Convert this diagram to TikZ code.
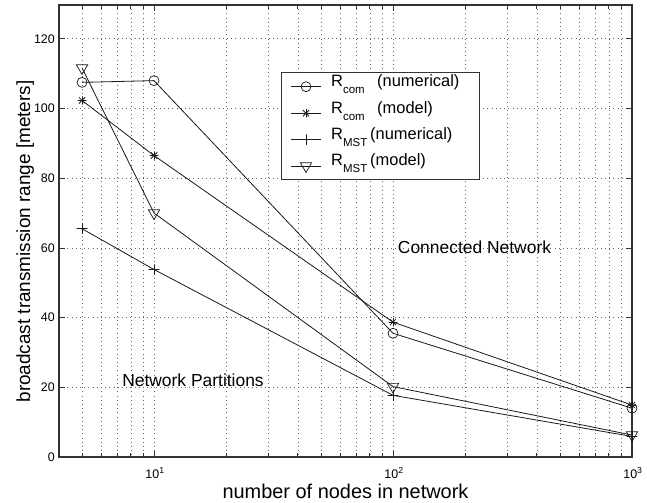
\documentclass[tikz,border=0pt]{standalone}
\usepackage{fontspec}
\setmainfont{Liberation Sans}
\usetikzlibrary{shapes.geometric}
\newcommand{\fsz}[1]{\fontsize{#1}{#1}\selectfont}
\begin{document}
\begin{tikzpicture}[x=1bp,y=-1bp,
  declare function={px(\v)=632-239*(3-ln(\v)/ln(10)); py(\v)=457-3.485*\v;},
  gridl/.style={draw=black!60, line width=0.6bp, dash pattern=on 0.8bp off 3.4bp},
  axisl/.style={draw=black!80, line width=1.1bp},
  tickl/.style={draw=black!80, line width=0.8bp},
  dline/.style={draw=black!90, line width=0.8bp},
  mk/.style={inner sep=0pt, outer sep=0pt, line width=0.7bp},
  cmark/.style={mk, draw=black!90, circle, minimum size=10bp},
  tmark/.style={mk, draw=black!90, regular polygon, regular polygon sides=3, shape border rotate=180, minimum size=13bp},
  smark/.style={mk, circle, minimum size=9bp, path picture={
      \draw[black!90, line width=0.8bp] (path picture bounding box.center) ++(-6,0) -- ++(12,0);
      \draw[black!90, line width=0.8bp] (path picture bounding box.center) ++(0,-6) -- ++(0,12);
      \draw[black!90, line width=0.8bp] (path picture bounding box.center) ++(-6,-6) -- ++(12,12);
      \draw[black!90, line width=0.8bp] (path picture bounding box.center) ++(-6,6) -- ++(12,-12);}},
  pmark/.style={mk, circle, minimum size=11bp, path picture={
      \draw[black!90, line width=0.7bp] (path picture bounding box.center) ++(-7,0) -- ++(14,0);
      \draw[black!90, line width=0.7bp] (path picture bounding box.center) ++(0,-7) -- ++(0,14);}},
  ticklab/.style={inner sep=0pt, font=\fsz{12.5}},
  legtext/.style={inner sep=0pt, anchor=base west, font=\fsz{16.5}},
  annot/.style={inner sep=0pt, font=\fsz{17.5}}
]
\useasboundingbox (0,0) rectangle (647,503);
\fill[white] (0,0) rectangle (647,503);

% grid
\foreach \v in {5,6,7,8,9,10,20,30,40,50,60,70,80,90,100,200,300,400,500,600,700,800,900}
  \draw[gridl] ({px(\v)},5) -- ({px(\v)},457);
\foreach \v in {20,40,60,80,100,120}
  \draw[gridl] (59,{py(\v)}) -- (632,{py(\v)});

% ticks
\foreach \v in {5,6,7,8,9,20,30,40,50,60,70,80,90,200,300,400,500,600,700,800,900}{
  \draw[tickl] ({px(\v)},457) -- ({px(\v)},453);
  \draw[tickl] ({px(\v)},5) -- ({px(\v)},9);}
\foreach \v in {10,100}{
  \draw[tickl] ({px(\v)},457) -- ({px(\v)},451);
  \draw[tickl] ({px(\v)},5) -- ({px(\v)},11);}
\foreach \v in {20,40,60,80,100,120}{
  \draw[tickl] (59,{py(\v)}) -- (65,{py(\v)});
  \draw[tickl] (632,{py(\v)}) -- (626,{py(\v)});}

% axes box
\draw[axisl] (59,5) rectangle (632,457);

% tick labels
\foreach \v in {0,20,40,60,80,100,120}
  \node[ticklab, anchor=east] (yl\v) at (55,{py(\v)}) {\v};
\node[ticklab, anchor=base] (xl1) at ({px(10)+1},478) {10\textsuperscript{1}};
\node[ticklab, anchor=base] (xl2) at ({px(100)+1},478) {10\textsuperscript{2}};
\node[ticklab, anchor=base] (xl3) at ({px(1000)+1},478) {10\textsuperscript{3}};

% axis labels
\node[inner sep=0pt, anchor=base, font=\fsz{20}] (xlab) at (345.5,498) {number of nodes in network};
\node[inner sep=0pt, anchor=base, rotate=90, font=\fsz{19}] (ylab) at (30,241.5) {broadcast transmission range [meters]};

% data points
\node[cmark] (c1) at ({px(5)},{py(107.5)}) {};
\node[cmark] (c2) at ({px(10)},{py(108)}) {};
\node[cmark] (c3) at ({px(100)},{py(35.5)}) {};
\node[cmark] (c4) at ({px(1000)},{py(14)}) {};

\node[smark] (s1) at ({px(5)},{py(102.3)}) {};
\node[smark] (s2) at ({px(10)},{py(86.5)}) {};
\node[smark] (s3) at ({px(100)},{py(38.7)}) {};
\node[smark] (s4) at ({px(1000)},{py(14.9)}) {};

\node[pmark] (p1) at ({px(5)},{py(65.5)}) {};
\node[pmark] (p2) at ({px(10)},{py(53.8)}) {};
\node[pmark] (p3) at ({px(100)},{py(17.7)}) {};
\node[pmark] (p4) at ({px(1000)},{py(5.9)}) {};

\node[tmark] (t1) at ({px(5)},{py(111.6)}) {};
\node[tmark] (t2) at ({px(10)},{py(70)}) {};
\node[tmark] (t3) at ({px(100)},{py(20.2)}) {};
\node[tmark] (t4) at ({px(1000)},{py(6.3)}) {};

\draw[dline] (c1.center) -- (c2.center) -- (c3.center) -- (c4.center);
\draw[dline] (s1.center) -- (s2.center) -- (s3.center) -- (s4.center);
\draw[dline] (p1.center) -- (p2.center) -- (p3.center) -- (p4.center);
\draw[dline] (t1.center) -- (t2.center) -- (t3.center) -- (t4.center);

% annotations
\node[annot] (conn) at (474.5,247) {Connected Network};
\node[annot] (part) at (193,380) {Network Partitions};

% legend
\node[draw=black!80, line width=0.9bp, fill=white, anchor=north west, minimum width=198bp, minimum height=107bp, inner sep=0pt] (leg) at (281,72) {};
\foreach \i/\yy in {1/86.7,2/113.2,3/139.6,4/166}{
  \coordinate (la\i) at (291,\yy);
  \coordinate (lb\i) at (321,\yy);
  \draw[dline] (la\i) -- (lb\i);}
\node[cmark] (lm1) at (306,86.7) {};
\node[smark] (lm2) at (306,113.2) {};
\node[pmark] (lm3) at (306,139.6) {};
\node[tmark] (lm4) at (306,166) {};
\node[legtext] (lt1) at (331,86.7) {\makebox[46bp][l]{R\raisebox{-7bp}{\fsz{11.5}com}}(numerical)};
\node[legtext] (lt2) at (331,113.2) {\makebox[46bp][l]{R\raisebox{-7bp}{\fsz{11.5}com}}(model)};
\node[legtext] (lt3) at (331,139.6) {\makebox[39bp][l]{R\raisebox{-7bp}{\fsz{11.5}MST}}(numerical)};
\node[legtext] (lt4) at (331,166) {\makebox[39bp][l]{R\raisebox{-7bp}{\fsz{11.5}MST}}(model)};
\end{tikzpicture}
\end{document}
